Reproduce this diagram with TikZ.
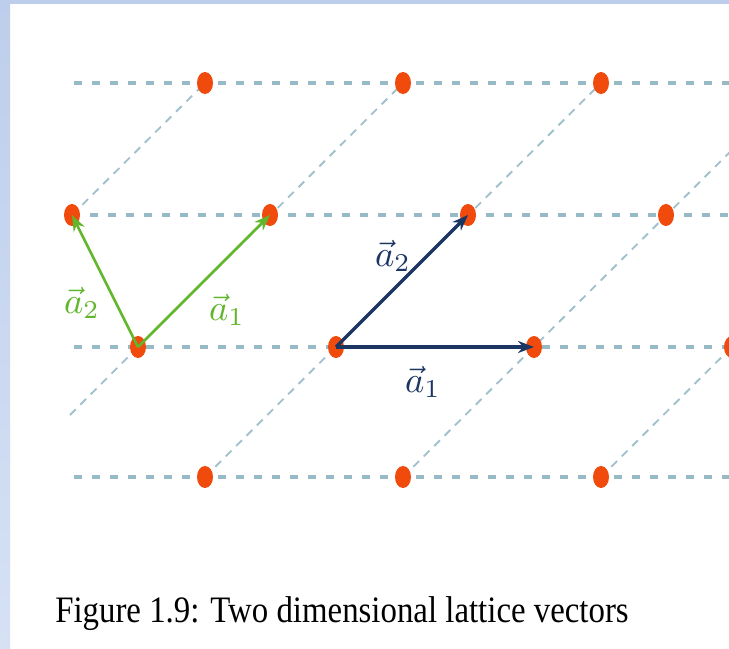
\documentclass[tikz,border=0pt]{standalone}
\usepackage{fontspec}
\usepackage{graphicx}
\newfontfamily\capfont{Liberation Serif}
\usetikzlibrary{arrows.meta,shapes.geometric,backgrounds}

\definecolor{siteorange}{RGB}{240,74,12}
\definecolor{latgrey}{RGB}{150,186,198}
\definecolor{vecgreen}{RGB}{98,182,44}
\definecolor{vecnavy}{RGB}{28,54,100}
\definecolor{frametop}{RGB}{189,206,236}
\definecolor{framebot}{RGB}{214,225,244}

\newcommand{\veclab}[1]{\scalebox{2.75}{$\vec{a}_{#1}$}}

\begin{document}
\begin{tikzpicture}[x=0.75pt, y=-0.75pt,
    site/.style={ellipse, fill=siteorange, minimum width=12pt, minimum height=16.5pt, inner sep=0pt},
    rowline/.style={draw=latgrey, line width=2.6pt, dash pattern=on 6pt off 7.5pt},
    diagline/.style={draw=latgrey!90!white, line width=1.4pt, dash pattern=on 6pt off 5pt},
    vecg/.style={-{Stealth[length=12pt, width=9pt]}, line width=2pt, draw=vecgreen},
    vecb/.style={-{Stealth[length=12pt, width=9pt]}, line width=2.4pt, draw=vecnavy},
    vlab/.style={inner sep=0pt}
]
\useasboundingbox (0,0) rectangle (729,649);

% Gitterpunkte
\foreach \i in {0,1,2} \node[site] (p0\i) at (205+198*\i,83) {};
\foreach \i in {0,...,3} \node[site] (p1\i) at (72+198*\i,215) {};
\foreach \i in {0,...,3} \node[site] (p2\i) at (138+198*\i,347) {};
\foreach \i in {0,1,2} \node[site] (p3\i) at (205+198*\i,477) {};

% Randpunkte
\coordinate (w0) at (74,83);   \coordinate (e0) at (729,83);
\coordinate (e1) at (729,215);
\coordinate (w2) at (74,347);  \coordinate (e2) at (729,347);
\coordinate (w3) at (74,477);  \coordinate (e3) at (729,477);
\coordinate (sw) at (70,415);
\coordinate (ne4) at (740,142);
\coordinate (ne5) at (775,304);

% Rahmen und Gitterlinien
\begin{scope}[on background layer]
\fill[white] (0,0) rectangle (729,649);
\shade[top color=frametop, bottom color=framebot] (0,0) rectangle (10,649);
\fill[frametop] (0,0) rectangle (729,4);
\clip (10,4) rectangle (729,649);
\draw[rowline] (w0) -- (e0);
\draw[rowline] (p10.center) -- (e1);
\draw[rowline] (w2) -- (e2);
\draw[rowline] (w3) -- (e3);
\draw[diagline] (p10.center) -- (p00.center);
\draw[diagline] (sw) -- (p01.center);
\draw[diagline] (p30.center) -- (p02.center);
\draw[diagline] (p31.center) -- (ne4);
\draw[diagline] (p32.center) -- (ne5);
\end{scope}

% Gittervektoren
\draw[vecg] (p20.center) -- (p11.center);
\draw[vecg] (p20.center) -- (p10.center);
\draw[vecb] (p21.center) -- (p22.center);
\draw[vecb] (p21.center) -- (p12.center);
\node[vlab, text=vecgreen] (ga2) at (82,303) {\veclab{2}};
\node[vlab, text=vecgreen] (ga1) at (227,310) {\veclab{1}};
\node[vlab, text=vecnavy] (ba2) at (393,256) {\veclab{2}};
\node[vlab, text=vecnavy] (ba1) at (423,382) {\veclab{1}};

% Bildunterschrift
\node[font=\capfont\fontsize{28}{32}\selectfont, anchor=base, inner sep=0pt] (cap) at (342,622)
    {\scalebox{0.88}[1]{Figure 1.9: Two dimensional lattice vectors}};
\end{tikzpicture}
\end{document}
